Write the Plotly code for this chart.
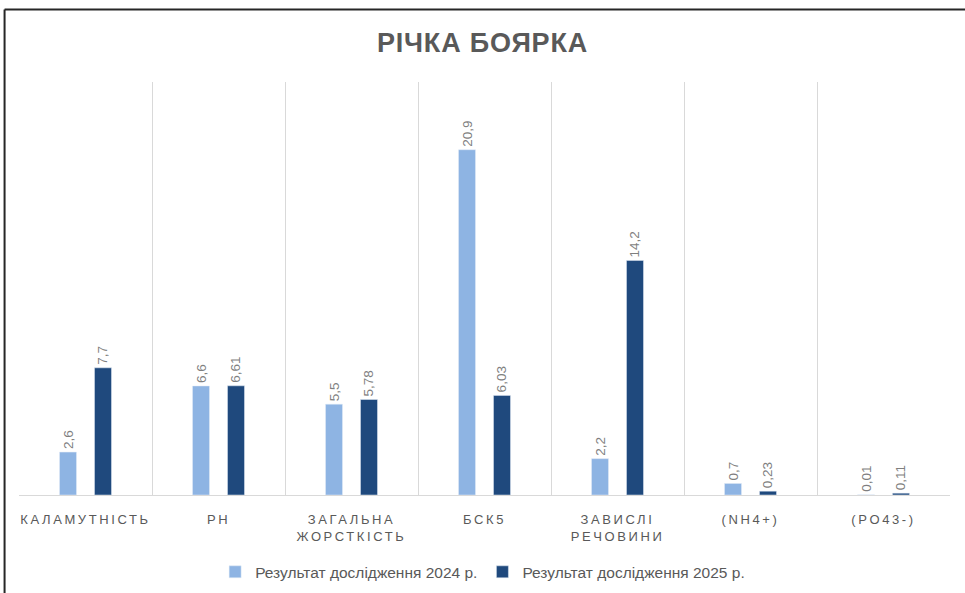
import plotly.graph_objects as go

# Data
categories = ["КАЛАМУТНІСТЬ", "PH", "ЗАГАЛЬНА<br>ЖОРСТКІСТЬ", "БСК5", "ЗАВИСЛІ<br>РЕЧОВИНИ", "(NH4+)", "(PO43-)"]
values_2024 = [2.6, 6.6, 5.5, 20.9, 2.2, 0.7, 0.01]
values_2025 = [7.7, 6.61, 5.78, 6.03, 14.2, 0.23, 0.11]
series_names = ["Результат дослідження 2024 р.", "Результат дослідження 2025 р."]

light = "#8EB4E3"
dark = "#1F497D"
grey = "#595959"

tick_text = ['<span style="letter-spacing:2.6px">' + c + "</span>" for c in categories]

fig = go.Figure()
for name, vals, col in [(series_names[0], values_2024, light), (series_names[1], values_2025, dark)]:
    fig.add_trace(go.Bar(
        x=categories, y=vals, name=name, marker_color=col,
        texttemplate="%{y}", textposition="outside", textangle=-90,
        textfont=dict(family="Liberation Sans", size=13.5, color="#7F7F7F"),
        constraintext="none", cliponaxis=False,
    ))

fig.update_layout(
    width=965, height=593,
    margin=dict(l=19, r=15, t=82, b=98, autoexpand=False),
    paper_bgcolor="white", plot_bgcolor="white",
    separators=", ",
    barmode="group", bargap=0.474, bargroupgap=0.514,
    title=dict(
        text='<span style="letter-spacing:0.8px">РІЧКА БОЯРКА</span>',
        x=0.5, xanchor="center", y=0.929, yanchor="middle",
        font=dict(family="Liberation Sans", size=27, color=grey, weight="bold"),
    ),
    showlegend=True,
    legend=dict(
        orientation="h", x=0.498, xanchor="center",
        yref="container", y=0.035, yanchor="middle",
        font=dict(family="Liberation Sans", size=15.5, color=grey),
        itemwidth=30,
    ),
    font=dict(family="Liberation Sans", color=grey),
)

fig.update_xaxes(
    tickmode="array", tickvals=categories, ticktext=tick_text,
    tickson="boundaries", showgrid=True, gridcolor="#D9D9D9", gridwidth=1,
    showline=True, linecolor="#D9D9D9", linewidth=1,
    ticks="", tickangle=0, automargin=False,
    tickfont=dict(family="Liberation Sans", size=13, color=grey),
    ticklabelstandoff=12,
)
fig.update_yaxes(range=[0, 25], showgrid=False, showticklabels=False, zeroline=False)

# outer frame of the chart area
fig.add_shape(type="line", xref="paper", yref="paper", x0=-0.0155, x1=1.03, y0=1.1755, y1=1.1755,
              line=dict(color="#262626", width=2))
fig.add_shape(type="line", xref="paper", yref="paper", x0=-0.0155, x1=-0.0155, y0=1.1755, y1=-0.26,
              line=dict(color="#262626", width=2))

# drop the default page margin so the figure sits at the window corner
fig.write_html("out.html", config={"displayModeBar": False},
               post_script="document.body.style.margin = '0';")
